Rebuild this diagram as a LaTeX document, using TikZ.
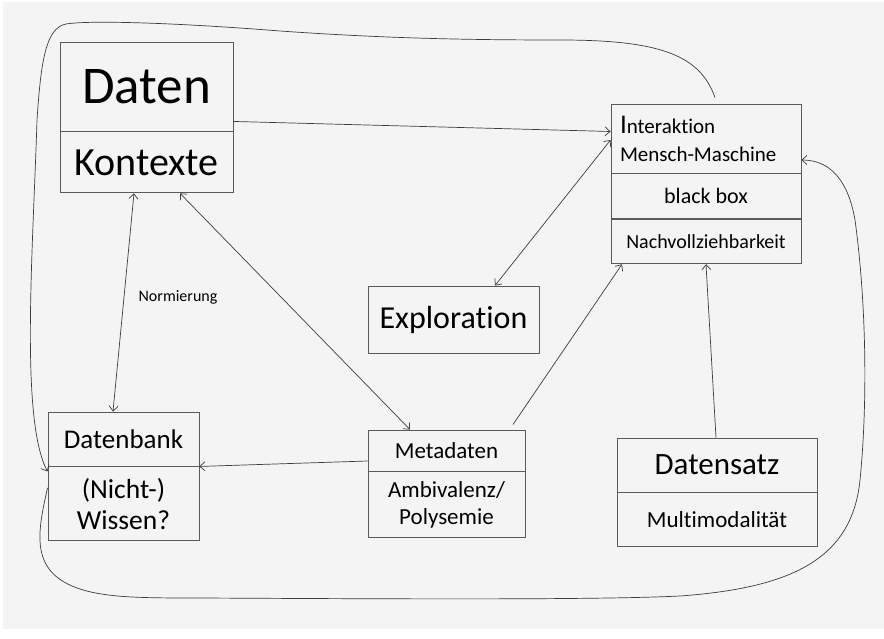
\documentclass[tikz,border=0pt]{standalone}
\usepackage{fontspec}
\setmainfont{Carlito}[Ligatures=NoCommon]
\usetikzlibrary{positioning,arrows.meta}
\definecolor{bggray}{HTML}{F4F4F4}
\definecolor{framegray}{HTML}{5A5A5A}
\definecolor{linegray}{HTML}{3C3C3C}
\tikzset{
	part/.style={draw=framegray, line width=0.9pt, inner sep=0pt, align=center, text=black},
	link/.style={draw=linegray, line width=0.7pt},
	tip/.style={-{Straight Barb[length=5pt,width=9pt]}},
	twotip/.style={{Straight Barb[length=5pt,width=9pt]}-{Straight Barb[length=5pt,width=9pt]}}
}
\newcommand{\fs}[2]{\fontsize{#1}{#2}\selectfont}

\begin{document}
\begin{tikzpicture}[x=1pt, y=-1pt]
			%%%%% START %%%%%
			
			\useasboundingbox (0, 0) rectangle (884, 639);
			\fill[white] (0, 0) rectangle (884, 639);
			\fill[bggray] (3, 2) rectangle (884, 629);
			
			% boxes
			\node[part, minimum width=173pt, minimum height=89pt, font=\fs{53}{60}] (daten) at (146.5, 86.5) {Daten};
			\node[part, minimum width=173pt, minimum height=61pt, font=\fs{40}{46}, below=0pt of daten] (kontexte) {Kontexte};
			
			\node[part, minimum width=190pt, minimum height=69pt, text width=172pt, align=left, font=\fs{21}{28}] (interaktion) at (706, 138.5) {{\fs{27}{28}I}nteraktion\\Mensch-Maschine};
			\node[part, minimum width=190pt, minimum height=45pt, font=\fs{22}{26}, below=0pt of interaktion] (blackbox) {black box};
			\node[part, minimum width=190pt, minimum height=44pt, font=\fs{20}{24}, below=0pt of blackbox] (nachvoll) {Nachvollziehbarkeit};
			
			\node[part, minimum width=171pt, minimum height=67pt, font=\fs{32}{36}] (exploration) at (453.5, 319.5) {Exploration};
			
			\node[part, minimum width=151pt, minimum height=54pt, font=\fs{27}{31}] (datenbank) at (123.5, 439) {Datenbank};
			\node[part, minimum width=151pt, minimum height=74pt, font=\fs{27.5}{31}, below=0pt of datenbank] (wissen) {(Nicht-)\\Wissen?};
			
			\node[part, minimum width=157pt, minimum height=41pt, font=\fs{23}{27}] (metadaten) at (446.5, 450.5) {Metadaten};
			\node[part, minimum width=157pt, minimum height=66pt, font=\fs{23}{27}, below=0pt of metadaten] (ambivalenz) {Ambivalenz/\\Polysemie};
			
			\node[part, minimum width=200pt, minimum height=54pt, font=\fs{31}{35}] (datensatz) at (717, 465) {Datensatz};
			\node[part, minimum width=200pt, minimum height=54pt, font=\fs{23}{27}, below=0pt of datensatz] (multimod) {Multimodalität};
			
			\node[font=\fs{16}{19}] (normierung) at (178, 297) {Normierung};
			
			% straight links
			\draw[link, tip] ([yshift=10pt]daten.south east) -- ([yshift=7pt]interaktion.west);
			\draw[link, twotip] ([yshift=-1.5pt]interaktion.west) -- ([xshift=41.5pt]exploration.north);
			\draw[link, twotip] ([xshift=-12.5pt]kontexte.south) -- ([xshift=-10.5pt]datenbank.north);
			\draw[link, twotip] ([xshift=33.5pt]kontexte.south) -- ([xshift=-36.5pt]metadaten.north);
			\draw[link, tip] ([xshift=66.5pt,yshift=5pt]metadaten.north) -- ([xshift=-84pt]nachvoll.south);
			\draw[link, tip] ([xshift=-1pt]datensatz.north) -- (nachvoll.south);
			\draw[link, tip] ([yshift=-10.5pt]metadaten.west) -- (datenbank.south east);
			
			% outer curves
			\draw[link, tip] ([xshift=9pt,yshift=6pt]interaktion.north)
				.. controls (700, 55) and (660, 40) .. (560, 40)
				.. controls (460, 40) and (380, 38) .. (280, 31)
				.. controls (180, 23) and (90, 20) .. (66, 24)
				.. controls (46, 28) and (41, 60) .. (37, 120)
				.. controls (33, 250) and (20, 420) .. ([yshift=-5pt]datenbank.south west);
			\draw[link, tip] ([yshift=16pt]wissen.west)
				.. controls (38, 530) and (30, 568) .. (72, 586)
				.. controls (100, 598) and (140, 598) .. (200, 598)
				.. controls (400, 599) and (600, 600) .. (680, 596)
				.. controls (790, 588) and (852, 560) .. (860, 480)
				.. controls (868, 400) and (866, 300) .. (855, 220)
				.. controls (848, 180) and (830, 160) .. ([yshift=-21.5pt]interaktion.east);
			
			%%%%% END %%%%%
\end{tikzpicture}
\end{document}
